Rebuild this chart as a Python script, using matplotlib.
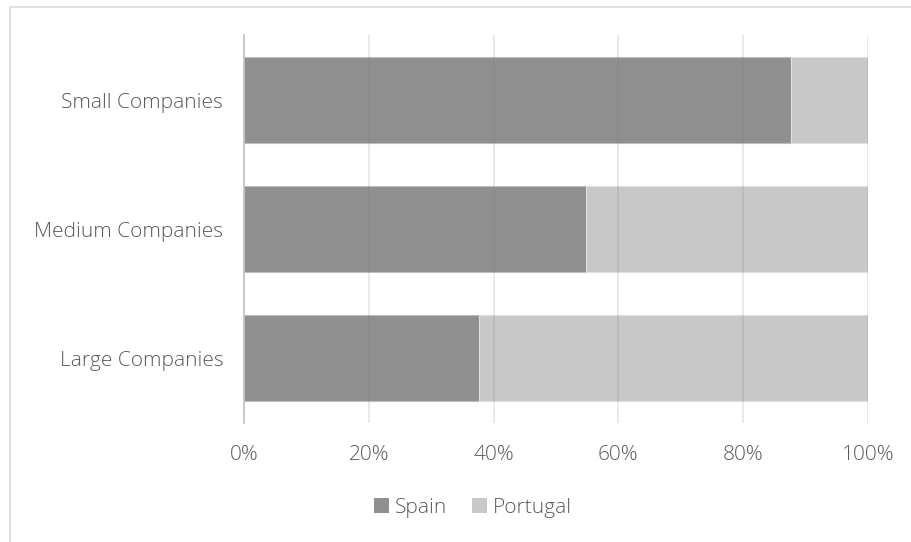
import matplotlib
matplotlib.use("Agg")
import matplotlib.pyplot as plt
from matplotlib.patches import Rectangle
from matplotlib.ticker import FuncFormatter

categories = ["Small Companies", "Medium Companies", "Large Companies"]
spain = [87.6, 54.8, 37.7]
portugal = [12.4, 45.2, 62.3]
x_ticks = [0, 20, 40, 60, 80, 100]

SPAIN_COLOR = "#8f8f8f"
PORTUGAL_COLOR = "#c8c8c8"
TEXT_COLOR = "#595959"

plt.rcParams["font.family"] = ["Open Sans", "DejaVu Sans"]
plt.rcParams["font.weight"] = "light"

W, H = 912, 542
fig = plt.figure(figsize=(W / 100, H / 100), dpi=100)

# light outer frame
fig.patches.append(Rectangle((10 / W, -0.1), 1.2, 1 - 6.5 / H + 0.1,
                             transform=fig.transFigure, fill=False,
                             edgecolor="#d9d9d9", linewidth=1.2))

ax = fig.add_axes([244 / W, 1 - 423 / H, (868 - 244) / W, (423 - 35.5) / H])

ypos = list(range(len(categories)))
ax.barh(ypos, spain, height=0.667, color=SPAIN_COLOR, edgecolor="#bdbdbd",
        linewidth=0.8, label="Spain", zorder=2)
ax.barh(ypos, portugal, left=spain, height=0.667, color=PORTUGAL_COLOR,
        edgecolor="#e0e0e0", linewidth=0.8, label="Portugal", zorder=2)

ax.set_xlim(0, 100)
ax.set_ylim(len(categories) - 0.5, -0.5)
ax.set_xticks(x_ticks)
ax.xaxis.set_major_formatter(FuncFormatter(lambda v, p: f"{v:.0f}%"))
ax.set_yticks(ypos)
ax.set_yticklabels(categories)

for v in x_ticks[1:]:
    ax.axvline(v, color="#7f7f7f", linewidth=1.2, alpha=0.2, zorder=3)

for s in ["top", "right", "bottom"]:
    ax.spines[s].set_visible(False)
ax.spines["left"].set_color("#bfbfbf")
ax.spines["left"].set_linewidth(1.2)
ax.spines["left"].set_zorder(4)

ax.tick_params(axis="both", length=0, labelsize=15, labelcolor=TEXT_COLOR)
ax.tick_params(axis="x", pad=16)
ax.tick_params(axis="y", pad=15)

leg = fig.legend(loc="center", bbox_to_anchor=(473 / W, 1 - 508 / H), ncol=2,
                 frameon=False, fontsize=15, handlelength=0.7,
                 handleheight=0.7, handletextpad=0.3, columnspacing=1.2)
for t in leg.get_texts():
    t.set_color(TEXT_COLOR)
for h in leg.legend_handles:
    h.set_edgecolor("none")

fig.savefig("out.png", dpi=100)
